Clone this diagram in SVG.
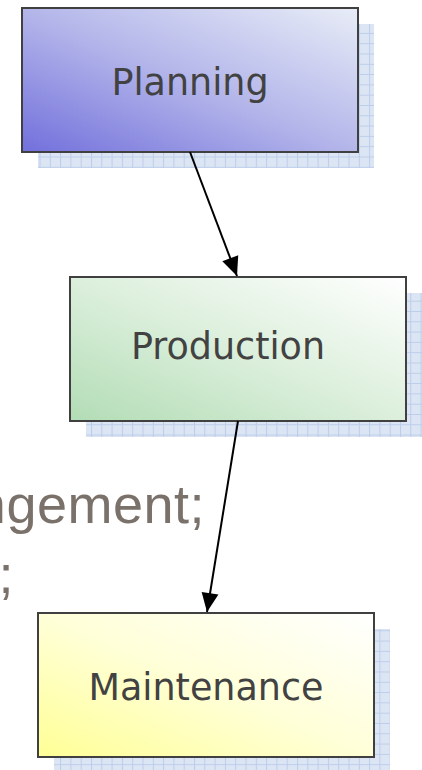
<svg xmlns="http://www.w3.org/2000/svg" width="422" height="770" viewBox="0 0 422 770">
  <style>
    .box { stroke: #404040; stroke-width: 2; }
    .shadow { fill: url(#grid); }
    .label { font-family: "DejaVu Sans", Verdana, sans-serif; font-size: 36.5px; fill: #424242; text-anchor: middle; }
    .bg { font-family: "Liberation Sans", Arial, sans-serif; font-size: 54px; letter-spacing: 0.5px; fill: #7a716a; text-anchor: end; }
    .conn { stroke: #000; stroke-width: 2; fill: none; marker-end: url(#head); }
  </style>
  <defs>
    <pattern id="grid" patternUnits="userSpaceOnUse" x="-1.7" y="2" width="10.3" height="10.3">
      <rect width="10.3" height="10.3" fill="#dce5f3"/>
      <path d="M0.5 0 V10.3 M0 0.5 H10.3" stroke="#bccdea" stroke-width="1"/>
    </pattern>
    <linearGradient id="gPlan" x1="0" y1="1" x2="1" y2="0">
      <stop offset="0" stop-color="#7270dc"/>
      <stop offset="0.5" stop-color="#b4b6ea"/>
      <stop offset="1" stop-color="#e8edf7"/>
    </linearGradient>
    <linearGradient id="gProd" x1="0" y1="1" x2="1" y2="0">
      <stop offset="0" stop-color="#b2ddb5"/>
      <stop offset="0.5" stop-color="#dcefdc"/>
      <stop offset="1" stop-color="#ffffff"/>
    </linearGradient>
    <linearGradient id="gMaint" x1="0" y1="1" x2="1" y2="0">
      <stop offset="0" stop-color="#ffff96"/>
      <stop offset="0.5" stop-color="#ffffd8"/>
      <stop offset="1" stop-color="#ffffff"/>
    </linearGradient>
    <marker id="head" markerUnits="userSpaceOnUse" markerWidth="20" markerHeight="18" viewBox="-20 -9 20 18" refX="0" refY="0" orient="auto">
      <path d="M0 0 L-19 -8.5 L-19 8.5 Z" fill="#000"/>
    </marker>
  </defs>

  <!-- text from the underlying slide, partly cut off at the left edge -->
  <g id="backdrop-text">
    <text class="bg" x="205" y="523">ngement;</text>
    <text class="bg" x="14" y="593">;</text>
  </g>

  <g id="planning">
    <rect class="shadow" x="38" y="24" width="336" height="144"/>
    <rect class="box" x="22" y="8" width="336" height="144" fill="url(#gPlan)"/>
    <text class="label" x="190" y="95">Planning</text>
  </g>

  <g id="production">
    <rect class="shadow" x="86" y="293" width="336" height="144"/>
    <rect class="box" x="70" y="277" width="336" height="144" fill="url(#gProd)"/>
    <text class="label" x="228" y="359">Production</text>
  </g>

  <g id="maintenance">
    <rect class="shadow" x="54" y="629" width="336" height="144"/>
    <rect class="box" x="38" y="613" width="336" height="144" fill="url(#gMaint)"/>
    <text class="label" x="206" y="700">Maintenance</text>
  </g>

  <g id="connectors">
    <line class="conn" x1="190" y1="152" x2="237" y2="276"/>
    <line class="conn" x1="238" y1="421" x2="207" y2="612"/>
  </g>
</svg>
